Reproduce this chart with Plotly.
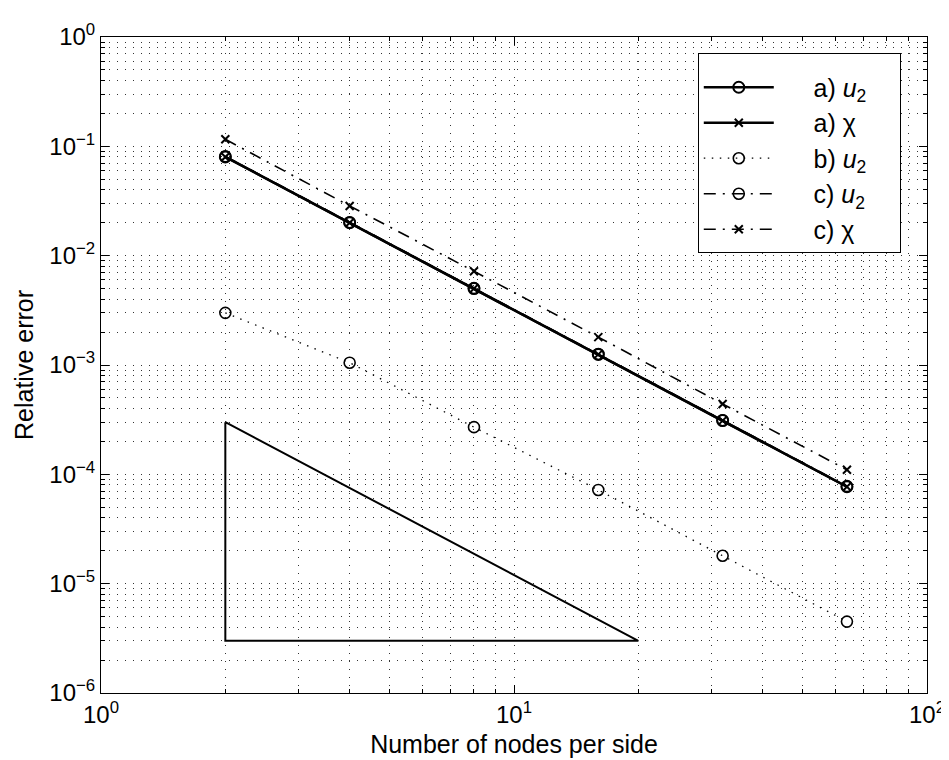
import plotly.graph_objects as go

# ---- data ----
nodes = [2, 4, 8, 16, 32, 64]
a_u2 = [0.080, 0.020, 0.0050, 0.00125, 3.1e-4, 7.7e-5]
a_chi = [0.080, 0.020, 0.0050, 0.00125, 3.1e-4, 7.7e-5]
b_u2 = [3.0e-3, 1.05e-3, 2.7e-4, 7.2e-5, 1.8e-5, 4.5e-6]
c_u2 = [0.081, 0.0202, 0.00505, 0.00126, 3.12e-4, 7.8e-5]
c_chi = [0.116, 0.0285, 0.0072, 0.0018, 4.4e-4, 1.1e-4]
tri_x = [2, 2, 20, 2]
tri_y = [3e-4, 3e-6, 3e-6, 3e-4]

x_major = [1, 10, 100]
x_major_text = ["10<sup>0</sup>", "10<sup>1</sup>", "10<sup>2</sup>"]
y_major = [1e-6, 1e-5, 1e-4, 1e-3, 1e-2, 1e-1, 1]
y_major_text = ["10<sup>\u22126</sup>", "10<sup>\u22125</sup>", "10<sup>\u22124</sup>",
                "10<sup>\u22123</sup>", "10<sup>\u22122</sup>", "10<sup>\u22121</sup>",
                "10<sup>0</sup>"]
x_minor = [m * 10 ** k for k in range(0, 2) for m in range(2, 10)]
y_minor = [m * 10.0 ** k for k in range(-6, 0) for m in range(2, 10)]

legend_names = ["a) <i>u</i><sub>2</sub>", "a) \u03c7", "b) <i>u</i><sub>2</sub>",
                "c) <i>u</i><sub>2</sub>", "c) \u03c7"]

FONT = "Liberation Sans, Arial, Helvetica, sans-serif"
LEAD = "\u00a0" * 5
TRAIL = "\u00a0" * 4
DASHDOT = "12px,7px,2px,7px"

fig = go.Figure()

fig.add_trace(go.Scatter(x=nodes, y=a_u2, mode="lines+markers", name=LEAD + legend_names[0] + TRAIL,
                         line=dict(color="black", width=2.5, dash="solid"),
                         marker=dict(symbol="circle-open", size=11, color="black", line=dict(width=2))))
fig.add_trace(go.Scatter(x=nodes, y=a_chi, mode="lines+markers", name=LEAD + legend_names[1] + TRAIL,
                         line=dict(color="black", width=2.5, dash="solid"),
                         marker=dict(symbol="x-thin-open", size=8, color="black", line=dict(width=2))))
fig.add_trace(go.Scatter(x=nodes, y=b_u2, mode="lines+markers", name=LEAD + legend_names[2] + TRAIL,
                         line=dict(color="black", width=1.3, dash="1.5px,6.5px"),
                         marker=dict(symbol="circle-open", size=11, color="black", line=dict(width=1.6))))
fig.add_trace(go.Scatter(x=nodes, y=c_u2, mode="lines+markers", name=LEAD + legend_names[3] + TRAIL,
                         line=dict(color="black", width=1.6, dash=DASHDOT),
                         marker=dict(symbol="circle-open", size=11, color="black", line=dict(width=1.6))))
fig.add_trace(go.Scatter(x=nodes, y=c_chi, mode="lines+markers", name=LEAD + legend_names[4] + TRAIL,
                         line=dict(color="black", width=1.6, dash=DASHDOT),
                         marker=dict(symbol="x-thin-open", size=8, color="black", line=dict(width=2))))
fig.add_trace(go.Scatter(x=tri_x, y=tri_y, mode="lines", showlegend=False,
                         line=dict(color="black", width=2)))

grid_dash = "1px,7px"
axis_common = dict(
    showline=True, linecolor="black", linewidth=1, mirror="allticks",
    ticks="inside", ticklen=8, tickcolor="black", tickwidth=1,
    showgrid=True, gridcolor="#333", gridwidth=1, griddash=grid_dash,
    zeroline=False, tickfont=dict(family=FONT, size=24, color="black"),
    title_font=dict(family=FONT, size=25, color="black"),
)

fig.update_xaxes(type="log", range=[0, 2], tickmode="array", tickvals=x_major, ticktext=x_major_text,
                 minor=dict(tickmode="array", tickvals=x_minor, ticks="inside", ticklen=4,
                            tickcolor="black", showgrid=True, gridcolor="#333", griddash=grid_dash),
                 title_text="Number of nodes per side", title_standoff=8, **axis_common)
fig.update_yaxes(type="log", range=[-6, 0], tickmode="array", tickvals=y_major, ticktext=y_major_text,
                 minor=dict(tickmode="array", tickvals=y_minor, ticks="inside", ticklen=4,
                            tickcolor="black", showgrid=True, gridcolor="#333", griddash=grid_dash),
                 title_text="Relative error", title_standoff=8, **axis_common)

fig.update_layout(
    width=949, height=760,
    margin=dict(l=93, r=24, t=25, b=75),
    paper_bgcolor="white", plot_bgcolor="white",
    font=dict(family=FONT, size=25, color="black"),
    showlegend=True,
    legend=dict(x=0.7225, y=0.9755, xanchor="left", yanchor="top",
                bgcolor="white", bordercolor="black", borderwidth=1,
                itemwidth=70, font=dict(family=FONT, size=25, color="black"),
                title=dict(text="\u00a0", font=dict(size=8)),
                tracegroupgap=0),
)

fig.write_html("out.html")
